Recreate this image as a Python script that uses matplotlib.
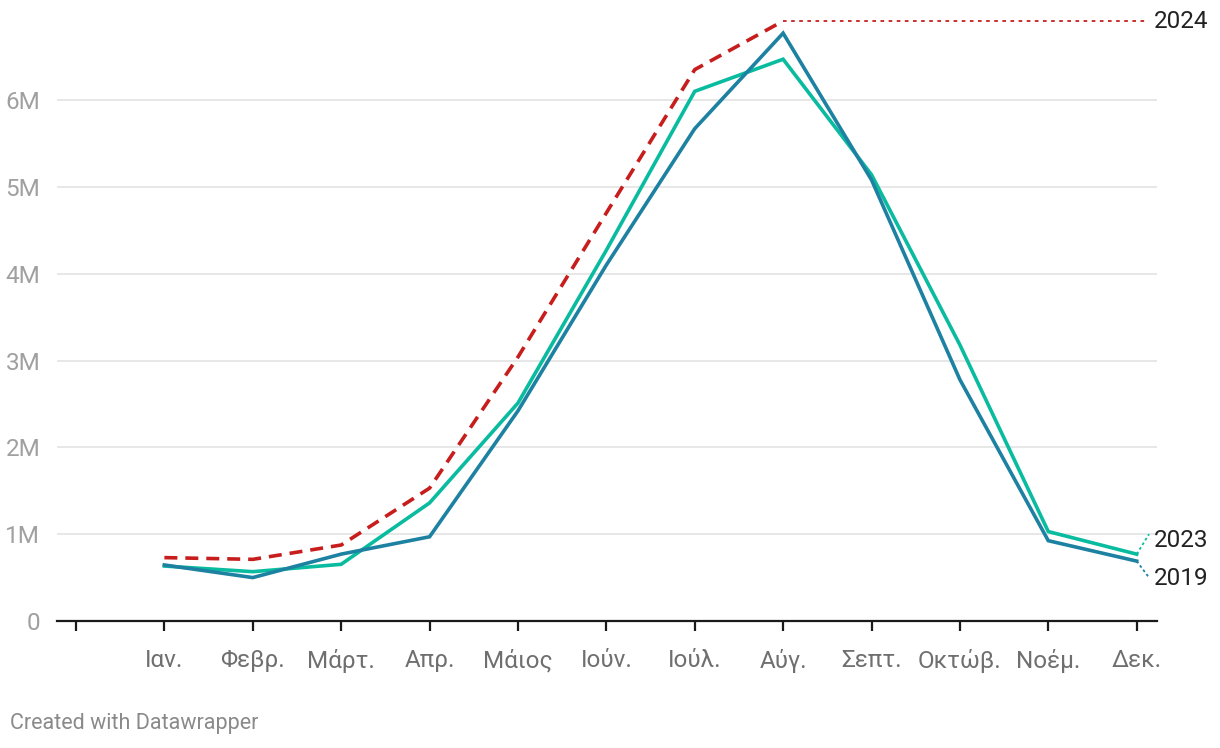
import numpy as np
import matplotlib.pyplot as plt

plt.rcParams['font.family'] = ['Roboto', 'DejaVu Sans']

# month labels (Greek abbreviations)
months = ["Ιαν.", "Φεβρ.", "Μάρτ.", "Απρ.", "Μάιος", "Ιούν.",
          "Ιούλ.", "Αύγ.", "Σεπτ.", "Οκτώβ.", "Νοέμ.", "Δεκ."]

# values in millions
y2019 = [0.645, 0.50, 0.77, 0.97, 2.42, 4.10, 5.67, 6.77, 5.08, 2.78, 0.925, 0.69]
y2023 = [0.633, 0.568, 0.653, 1.36, 2.51, 4.27, 6.10, 6.47, 5.14, 3.18, 1.03, 0.77]
y2024 = [0.73, 0.71, 0.875, 1.53, 3.04, 4.70, 6.35, 6.91]

yticks = [0, 1, 2, 3, 4, 5, 6]
ytick_labels = ["0", "1M", "2M", "3M", "4M", "5M", "6M"]

c2019 = "#1d81a2"
c2023 = "#09bb9f"
c2024 = "#c71e1d"

fig = plt.figure(figsize=(12.2, 7.48), dpi=100)
ax = fig.add_axes([57 / 1220, (748 - 621) / 748, 1100 / 1220, 611 / 748])

x = np.arange(1, 13)
ax.set_xlim(-0.215, 12.23)
ax.set_ylim(0, 611 / 86.83)

ax.plot(x, y2023, color=c2023, lw=2.6, solid_joinstyle="miter", zorder=3)
ax.plot(x, y2019, color=c2019, lw=2.6, solid_joinstyle="miter", zorder=4)
ax.plot(x[:len(y2024)], y2024, color=c2024, lw=2.6, dashes=(3.6, 2.2),
        dash_capstyle="butt", zorder=5)

# dotted connectors to labels
ax.plot([x[len(y2024) - 1], 12.1], [y2024[-1], y2024[-1]], color=c2024,
        lw=1.3, dashes=(2, 2.5))
ax.plot([12, 12.14], [y2023[-1], 1.0], color=c2023, lw=1.3, dashes=(1.5, 1.5))
ax.plot([12, 12.14], [y2019[-1], 0.5], color=c2019, lw=1.3, dashes=(1.5, 1.5))

ax.text(12.2, y2024[-1] - 0.01, "2024", fontsize=17.5, color="#222222",
        va="center", ha="left", clip_on=False)
ax.text(12.2, 0.925, "2023", fontsize=17.5, color="#222222",
        va="center", ha="left", clip_on=False)
ax.text(12.2, 0.49, "2019", fontsize=17.5, color="#222222",
        va="center", ha="left", clip_on=False)

# grid
for v in yticks[1:]:
    ax.axhline(v, color="#e3e3e3", lw=1.2, zorder=1)

for s in ["top", "right", "left"]:
    ax.spines[s].set_visible(False)
ax.spines["bottom"].set_color("#1a1a1a")
ax.spines["bottom"].set_linewidth(1.6)

ax.set_xticks(np.arange(0, 13))
ax.set_xticklabels([""] + months, fontsize=17.5, color="#6f6f6f")
ax.tick_params(axis="x", length=7, width=1.6, color="#1a1a1a", pad=13)

ax.set_yticks(yticks)
ax.set_yticklabels(ytick_labels, fontsize=17.5, color="#a0a0a0")
ax.tick_params(axis="y", length=0, pad=12)

fig.text(10 / 1220, 1 - 724 / 748, "Created with Datawrapper", fontsize=15.5,
         color="#8a8a8a", va="center", ha="left")

fig.savefig("out.png", dpi=100)
